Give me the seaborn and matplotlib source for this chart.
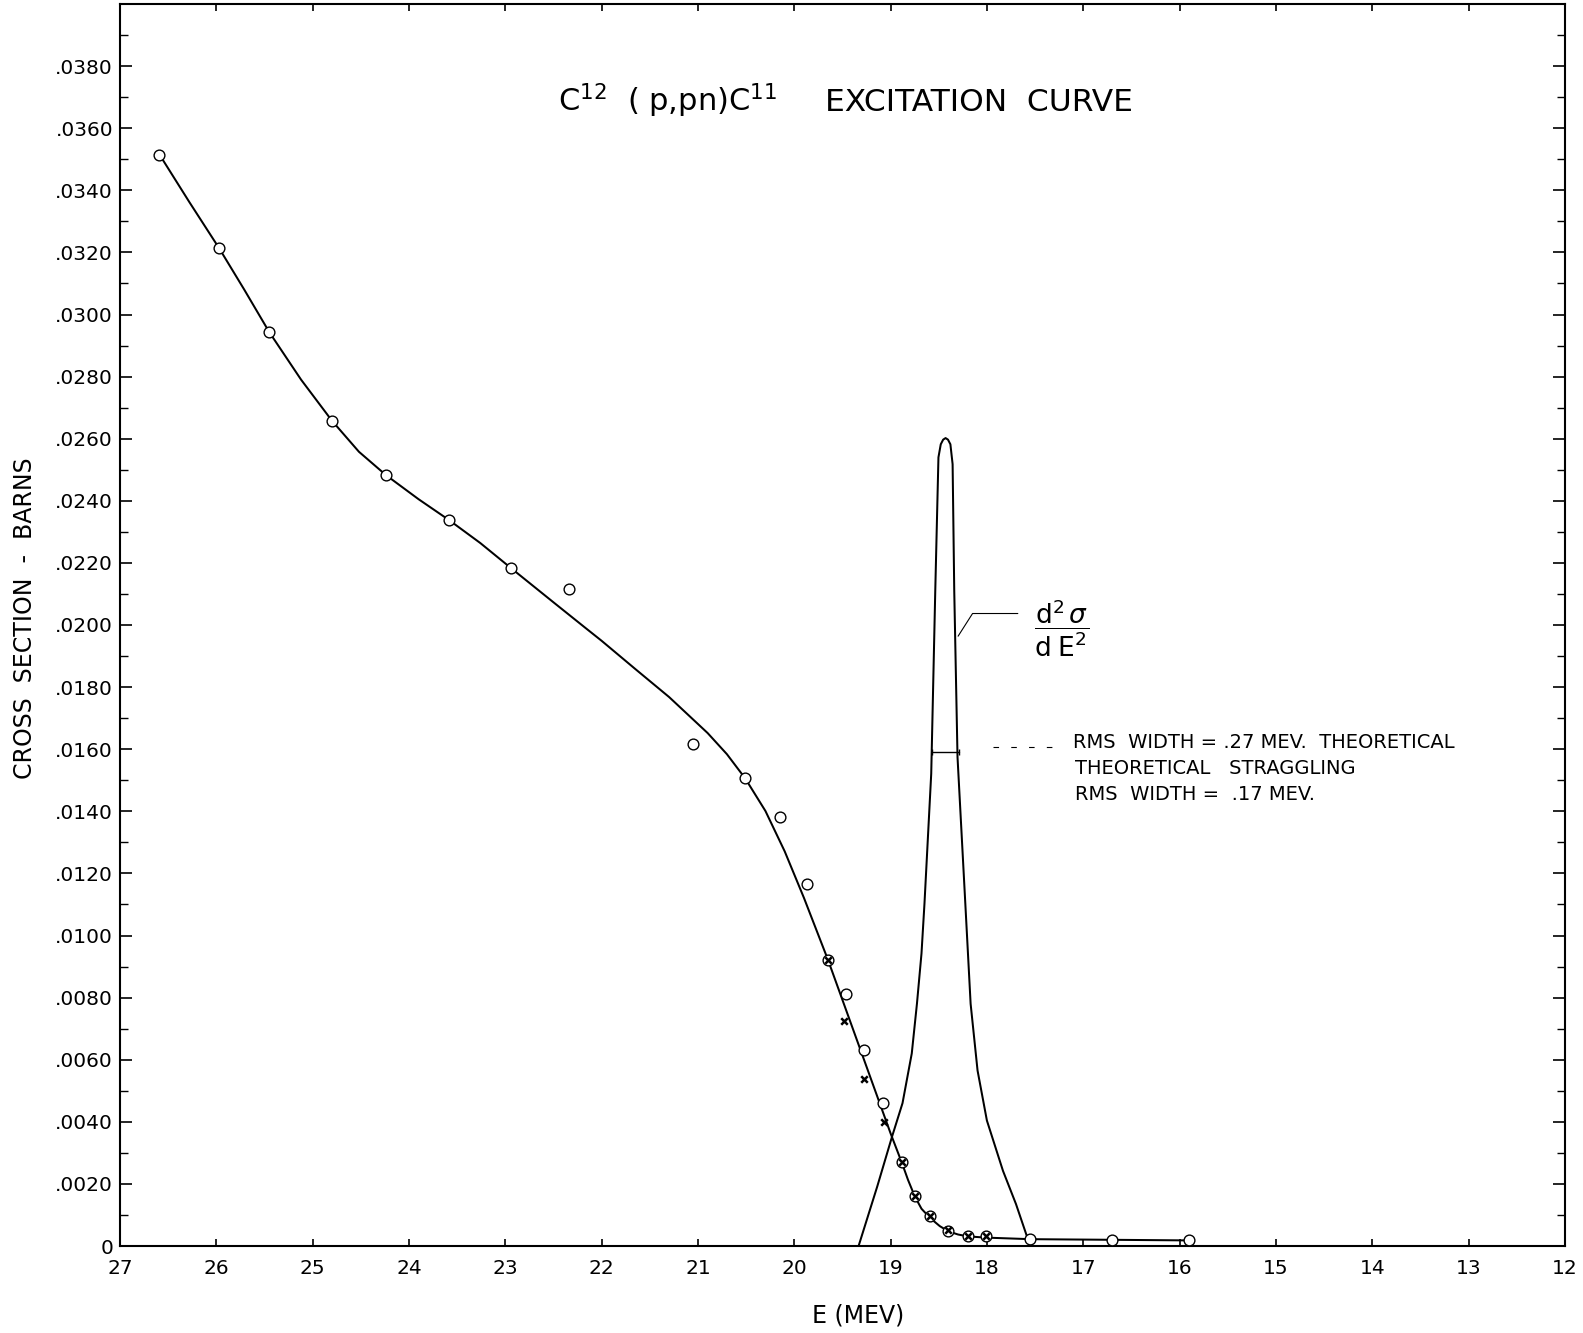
import matplotlib
matplotlib.use("Agg")
import matplotlib.pyplot as plt
import seaborn as sns
import pandas as pd

# ---------------- data ----------------
# open-circle measurements (E in MeV, cross section in barns)
circle_E = [26.59, 25.97, 25.45, 24.80, 24.24, 23.58, 22.94, 22.34, 21.05, 20.51,
            20.15, 19.87, 19.65, 19.46, 19.28, 19.08, 18.88, 18.75, 18.59, 18.40,
            18.20, 18.01, 17.55, 16.70, 15.90]
circle_sigma = [0.03515, 0.03213, 0.02943, 0.02658, 0.02483, 0.02337, 0.02183, 0.02116, 0.01617, 0.01506,
                0.01382, 0.01165, 0.00921, 0.00812, 0.00632, 0.00459, 0.00270, 0.00160, 0.00097, 0.00047,
                0.00031, 0.00031, 0.00023, 0.00020, 0.00018]

# "x" measurements
cross_E = [19.65, 19.48, 19.28, 19.07, 18.88, 18.75, 18.59, 18.40, 18.20, 18.01]
cross_sigma = [0.00921, 0.00724, 0.00538, 0.00399, 0.00270, 0.00160, 0.00097, 0.00050, 0.00031, 0.00033]

# hand-drawn excitation curve
curve_E = [26.59, 26.28, 25.97, 25.71, 25.45, 25.12, 24.80, 24.52, 24.24, 23.90,
           23.58, 23.26, 22.94, 22.50, 22.17, 22.00, 21.65, 21.30, 21.10, 20.90,
           20.70, 20.51, 20.30, 20.10, 19.90, 19.65, 19.40, 19.15, 19.00, 18.88,
           18.82, 18.75, 18.68, 18.59, 18.49, 18.40, 18.30, 18.20, 18.01, 17.55,
           15.90]
curve_sigma = [0.03515, 0.03362, 0.03213, 0.03080, 0.02943, 0.02790, 0.02658, 0.02558, 0.02483, 0.02405,
               0.02337, 0.02264, 0.02183, 0.02073, 0.01991, 0.01949, 0.01858, 0.01768, 0.01710, 0.01652,
               0.01584, 0.01506, 0.01401, 0.01271, 0.01121, 0.00921, 0.00706, 0.00491, 0.00362, 0.00265,
               0.00213, 0.00160, 0.00120, 0.00090, 0.00064, 0.00047, 0.00037, 0.00031, 0.00027, 0.00022,
               0.00018]

# d2sigma/dE2 (straggling) peak
peak_E = [19.333, 19.139, 18.985, 18.877, 18.781, 18.727, 18.680, 18.649, 18.579, 18.537,
          18.504, 18.480, 18.455, 18.430, 18.405, 18.380, 18.357, 18.340, 18.306, 18.225,
          18.170, 18.098, 18.001, 17.834, 17.699, 17.581]
peak_sigma = [0.0, 0.00192, 0.00353, 0.00460, 0.00620, 0.00781, 0.00942, 0.01103, 0.01521, 0.02111,
              0.02540, 0.02582, 0.02597, 0.02602, 0.02597, 0.02582, 0.02518, 0.02110, 0.01574, 0.01102,
              0.00780, 0.00565, 0.00404, 0.00242, 0.00135, 0.00027]

# RMS width bar and leader lines
rms_bar_E = [18.567, 18.295]
rms_bar_sigma = [0.0159, 0.0159]
rms_leader_E = [17.94, 17.20]
rms_leader_sigma = [0.01606, 0.01606]
d2_leader_E = [17.68, 18.15, 18.30]
d2_leader_sigma = [0.02037, 0.02037, 0.01964]

x_ticks = [27, 26, 25, 24, 23, 22, 21, 20, 19, 18, 17, 16, 15, 14, 13, 12]
x_tick_labels = ["27", "26", "25", "24", "23", "22", "21", "20", "19", "18",
                 "17", "16", "15", "14", "13", "12"]
y_ticks = [0.000, 0.002, 0.004, 0.006, 0.008, 0.010, 0.012, 0.014, 0.016, 0.018,
           0.020, 0.022, 0.024, 0.026, 0.028, 0.030, 0.032, 0.034, 0.036, 0.038]
y_tick_labels = ["0", ".0020", ".0040", ".0060", ".0080", ".0100", ".0120", ".0140", ".0160", ".0180",
                 ".0200", ".0220", ".0240", ".0260", ".0280", ".0300", ".0320", ".0340", ".0360", ".0380"]
y_minor_ticks = [0.001, 0.003, 0.005, 0.007, 0.009, 0.011, 0.013, 0.015, 0.017, 0.019,
                 0.021, 0.023, 0.025, 0.027, 0.029, 0.031, 0.033, 0.035, 0.037, 0.039]

# ---------------- figure ----------------
sns.set_theme(style="ticks")
plt.rcParams["font.family"] = ["DejaVu Sans"]
plt.rcParams["mathtext.fontset"] = "dejavusans"
plt.rcParams["text.color"] = "black"
plt.rcParams["axes.labelcolor"] = "black"

W, H = 1583, 1333
fig = plt.figure(figsize=(W / 100, H / 100), dpi=100)
fig.patch.set_facecolor("white")
L, R, T, B = 120, 1565, 4, 1246
ax = fig.add_axes([L / W, (H - B) / H, (R - L) / W, (B - T) / H])
ax.set_facecolor("white")

curve_df = pd.DataFrame({"E": curve_E, "sigma": curve_sigma})
peak_df = pd.DataFrame({"E": peak_E, "sigma": peak_sigma})
circ_df = pd.DataFrame({"E": circle_E, "sigma": circle_sigma})
cross_df = pd.DataFrame({"E": cross_E, "sigma": cross_sigma})

lw = 1.45
sns.lineplot(data=curve_df, x="E", y="sigma", sort=False, estimator=None,
             color="black", linewidth=lw, ax=ax)
sns.lineplot(data=peak_df, x="E", y="sigma", sort=False, estimator=None,
             color="black", linewidth=lw, ax=ax)
ax.plot(rms_bar_E, rms_bar_sigma, color="black", linewidth=1.0, marker="|", markersize=5,
        markeredgewidth=1.0)
ax.plot(rms_leader_E, rms_leader_sigma, color="black", linewidth=0.8, dashes=(5, 11))
ax.plot(d2_leader_E, d2_leader_sigma, color="black", linewidth=0.8)

# circles (white filled so the curve does not show through), crosses drawn on top
sns.scatterplot(data=circ_df, x="E", y="sigma", marker="o", s=60, facecolor="white",
                edgecolor="black", linewidth=1.0, ax=ax, zorder=4)
sns.scatterplot(data=cross_df, x="E", y="sigma", marker="x", s=22, color="black",
                linewidth=1.8, ax=ax, zorder=5)

ax.set_xlim(27, 12)
ax.set_ylim(0, 0.040)
ax.set_xticks(x_ticks)
ax.set_xticklabels(x_tick_labels)
ax.set_yticks(y_ticks)
ax.set_yticklabels(y_tick_labels)
ax.set_yticks(y_minor_ticks, minor=True)
ax.set_xlabel("")
ax.set_ylabel("")

for sp in ax.spines.values():
    sp.set_visible(True)
    sp.set_color("black")
    sp.set_linewidth(1.5)

ax.tick_params(axis="both", which="both", direction="in", colors="black",
               top=True, right=True, labelsize=14.5)
ax.tick_params(axis="y", which="major", length=8.5, width=1.2, pad=5)
ax.tick_params(axis="y", which="minor", length=5.5, width=1.0)
ax.tick_params(axis="x", which="major", length=5, width=1.2, pad=9)
ax.grid(False)

# ---------------- texts ----------------
def fx(px):
    return px / W

def fy(py):
    return 1 - py / H

fig.text(fx(558), fy(111), r"C$^{12}$  ( p,pn)C$^{11}$", fontsize=22, ha="left", va="baseline")
fig.text(fx(825), fy(111), "EXCITATION  CURVE", fontsize=22.5, ha="left", va="baseline")
fig.text(fx(25), fy(618), "CROSS  SECTION  -  BARNS", fontsize=17, rotation=90,
         ha="center", va="center")
fig.text(fx(858), fy(1316), "E (MEV)", fontsize=17, ha="center", va="center")
fig.text(fx(1062), fy(628), r"$\dfrac{\mathrm{d}^{2}\,\sigma}{\mathrm{d\;E}^{2}}$", fontsize=19,
         ha="center", va="center")
fig.text(fx(1073), fy(743), "RMS  WIDTH = .27 MEV.  THEORETICAL", fontsize=14, ha="left", va="center")
fig.text(fx(1075), fy(769), "THEORETICAL   STRAGGLING", fontsize=14, ha="left", va="center")
fig.text(fx(1075), fy(795), "RMS  WIDTH =  .17 MEV.", fontsize=14, ha="left", va="center")

fig.savefig("out.png", dpi=100, facecolor="white")
